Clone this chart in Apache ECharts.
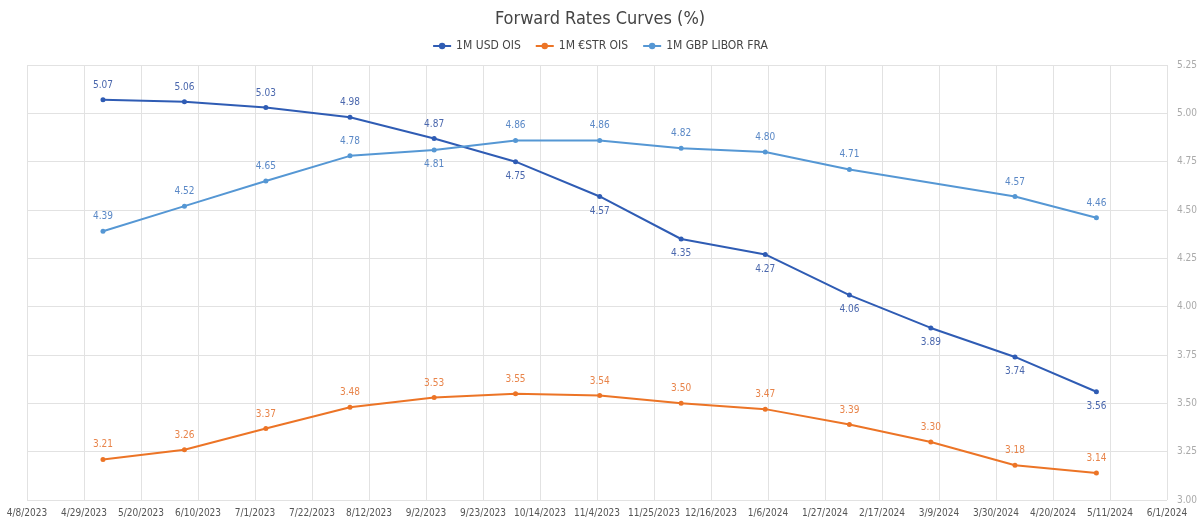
<!DOCTYPE html>
<html>
<head>
<meta charset="utf-8">
<script src="https://cdn.jsdelivr.net/npm/echarts@6/dist/echarts.min.js"></script>
<style>
html, body { margin: 0; padding: 0; background: #fff; }
#chart { width: 1200px; height: 523px; }
</style>
</head>
<body>
<div id="chart"></div>
<script>
// data
var dates = ['2023-05-06', '2023-06-05', '2023-07-05', '2023-08-05', '2023-09-05', '2023-10-05',
	'2023-11-05', '2023-12-05', '2024-01-05', '2024-02-05', '2024-03-06', '2024-04-06', '2024-05-06'];
var usdOis = [5.07, 5.06, 5.03, 4.98, 4.87, 4.75, 4.57, 4.35, 4.27, 4.06, 3.89, 3.74, 3.56];
var estrOis = [3.21, 3.26, 3.37, 3.48, 3.53, 3.55, 3.54, 3.50, 3.47, 3.39, 3.30, 3.18, 3.14];
var gbpFra = [4.39, 4.52, 4.65, 4.78, 4.81, 4.86, 4.86, 4.82, 4.80, 4.71, null, 4.57, 4.46];
// label below point for these (usd / gbp)
var usdBelow = [false, false, false, false, false, true, true, true, true, true, true, true, true];
var gbpBelow = [false, false, false, false, true, false, false, false, false, false, false, false, false];

var startDate = '2023-04-08';
var endDate = '2024-06-01';
var DAY = 86400000;

function dayNum(s) {
	return Math.round((Date.parse(s + 'T00:00:00Z') - Date.parse(startDate + 'T00:00:00Z')) / DAY);
}
function fmtDay(v) {
	var d = new Date(Date.parse(startDate + 'T00:00:00Z') + v * DAY);
	return (d.getUTCMonth() + 1) + '/' + d.getUTCDate() + '/' + d.getUTCFullYear();
}

function buildData(vals, below) {
	var out = [];
	for (var i = 0; i < vals.length; i++) {
		if (vals[i] == null) continue;
		var item = { value: [dayNum(dates[i]), vals[i]] };
		if (below && below[i]) {
			item.label = { position: 'bottom', distance: 7 };
		}
		out.push(item);
	}
	return out;
}

var FONT = '"DejaVu Sans Condensed", "Roboto", sans-serif';

var mkSeries = function(name, vals, below, lineColor, labelColor) {
	return {
		name: name,
		type: 'line',
		data: buildData(vals, below),
		symbol: 'circle',
		symbolSize: 5,
		lineStyle: { width: 2, color: lineColor },
		itemStyle: { color: lineColor },
		label: {
			show: true,
			position: 'top',
			distance: 7,
			color: labelColor,
			fontSize: 10,
			fontFamily: FONT,
			formatter: function(p) { return p.value[1].toFixed(2); }
		}
	};
};

var chart = echarts.init(document.getElementById('chart'));
chart.setOption({
	animation: false,
	title: {
		text: 'Forward Rates Curves (%)',
		left: 'center',
		top: 5,
		textStyle: { fontSize: 18, fontWeight: 'normal', color: '#444', fontFamily: FONT }
	},
	legend: {
		top: 35,
		left: 'center',
		itemWidth: 18,
		itemHeight: 8,
		itemGap: 14,
		textStyle: { fontSize: 12, color: '#444', fontFamily: FONT },
		data: ['1M USD OIS', '1M €STR OIS', '1M GBP LIBOR FRA']
	},
	grid: {
		left: 27,
		right: 32,
		top: 65,
		bottom: 23,
		containLabel: false
	},
	xAxis: {
		type: 'value',
		min: 0,
		max: dayNum(endDate),
		interval: 21,
		axisLine: { show: false },
		axisTick: { show: false },
		splitLine: { show: true, lineStyle: { color: '#e2e2e2', width: 1 } },
		axisLabel: {
			color: '#555',
			fontSize: 10,
			fontFamily: FONT,
			margin: 8,
			formatter: fmtDay
		}
	},
	yAxis: {
		type: 'value',
		position: 'right',
		min: 3.00,
		max: 5.25,
		interval: 0.25,
		axisLine: { show: false },
		axisTick: { show: false },
		splitLine: { show: true, lineStyle: { color: '#e2e2e2', width: 1 } },
		axisLabel: {
			color: '#aaa',
			fontSize: 10,
			fontFamily: FONT,
			margin: 10,
			formatter: function(v) { return v.toFixed(2); }
		}
	},
	series: [
		mkSeries('1M USD OIS', usdOis, usdBelow, '#2f5cb4', '#4a67ad'),
		mkSeries('1M €STR OIS', estrOis, null, '#ec7426', '#e8844a'),
		mkSeries('1M GBP LIBOR FRA', gbpFra, gbpBelow, '#5597d4', '#5a88c6')
	]
});
</script>
</body>
</html>
